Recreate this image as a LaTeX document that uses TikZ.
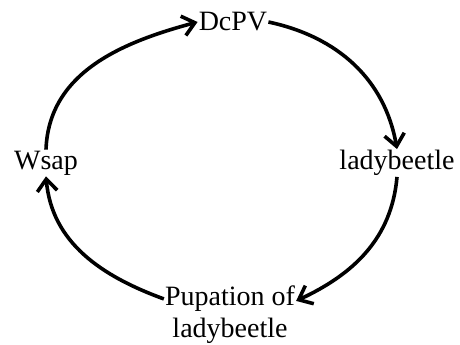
\documentclass[tikz,border=0pt]{standalone}
\usepackage{fontspec}
\setmainfont{Liberation Serif}
\usetikzlibrary{arrows.meta}

\begin{document}
\begin{tikzpicture}[x=1pt, y=1pt, font=\fontsize{28}{32}\selectfont,
  stage/.style={inner sep=1pt, align=center},
  arr/.style={line width=3.6pt, -{Straight Barb[length=12pt, width=20pt, line width=3.6pt]}}]
\useasboundingbox (0,0) rectangle (460,345);
\node[stage] (dcpv) at (233,323) {DcPV};
\node[stage] (wsap) at (46,182) {Wsap};
\node[stage] (lady) at (397,182) {ladybeetle};
\node[stage] (pup) at (230,30) {Pupation of\\ ladybeetle};
\draw[arr] (wsap.north) to[out=88, in=195] (dcpv.west);
\draw[arr] (dcpv.east) to[out=-12, in=100] (lady.north);
\draw[arr] (lady.south) to[out=-95, in=25] ([yshift=-16pt]pup.north east);
\draw[arr] ([yshift=-14pt]pup.north west) to[out=160, in=-85] (wsap.south);
\end{tikzpicture}
\end{document}
